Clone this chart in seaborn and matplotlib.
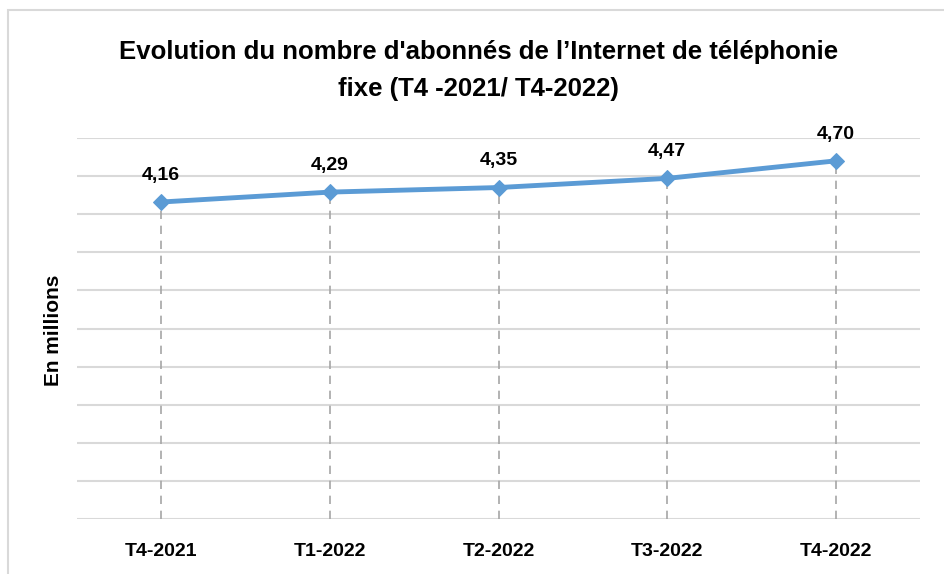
import matplotlib
matplotlib.use("Agg")
import matplotlib.pyplot as plt
import seaborn as sns
import pandas as pd
import numpy as np
from matplotlib.patches import Rectangle

categories = ["T4-2021", "T1-2022", "T2-2022", "T3-2022", "T4-2022"]
values = [4.16, 4.29, 4.35, 4.47, 4.70]
labels = ["4,16", "4,29", "4,35", "4,47", "4,70"]

sns.set_theme(style="white")
plt.rcParams['font.family'] = ['Liberation Sans', 'DejaVu Sans']
plt.rcParams['text.color'] = 'black'
plt.rcParams['axes.labelcolor'] = 'black'
plt.rcParams['xtick.color'] = 'black'

df = pd.DataFrame({"cat": categories, "val": values, "x": range(len(categories))})

fig = plt.figure(figsize=(9.44, 5.74), dpi=100)
ax = fig.add_axes([77/944, 1 - 519/574, (920-77)/944, (519-138)/574])

# grid lines
for yv in np.arange(0, 5.01, 0.5):
    ax.axhline(yv, color="#D9D9D9", lw=1.5, zorder=0)

# drop lines
ax.vlines(df["x"], 0, df["val"], colors="#A6A6A6", linestyles=(0, (5, 4)), lw=1.2, zorder=1)

sns.lineplot(data=df, x="x", y="val", ax=ax, color="#5B9BD5", lw=3.5,
             marker="D", markersize=8, markeredgecolor="#5B9BD5", zorder=3)

for xi, v, lab in zip(df["x"], values, labels):
    ax.annotate(lab, (xi, v), xytext=(0, 13), textcoords="offset points",
                ha="center", va="bottom", fontsize=14, fontweight="bold", color="black")

ax.set_xlim(-0.5, len(categories) - 0.5)
ax.set_ylim(0, 5.0)
ax.set_xticks(range(len(categories)))
ax.set_xticklabels(categories, fontsize=14, fontweight="bold")
ax.tick_params(axis="x", length=0, pad=17)
ax.set_yticks([])
ax.set_xlabel("")
ax.set_ylabel("En millions", fontsize=15, fontweight="bold")
ax.yaxis.set_label_coords(-0.0166, 0.496)
for s in ax.spines.values():
    s.set_visible(False)
ax.set_facecolor("none")

fig.text(0.507, 1 - 52/574, "Evolution du nombre d'abonnés de l’Internet de téléphonie",
         ha="center", va="center", fontsize=18.5, fontweight="bold", color="black")
fig.text(0.507, 1 - 89/574, "fixe (T4 -2021/ T4-2022)",
         ha="center", va="center", fontsize=18.5, fontweight="bold", color="black")

fig.patches.append(Rectangle((8/944, -0.1), 1.2, 1 - 10/574 + 0.1, transform=fig.transFigure,
                             fill=False, edgecolor="#D9D9D9", lw=1.5))

fig.savefig("out.png", dpi=100)
